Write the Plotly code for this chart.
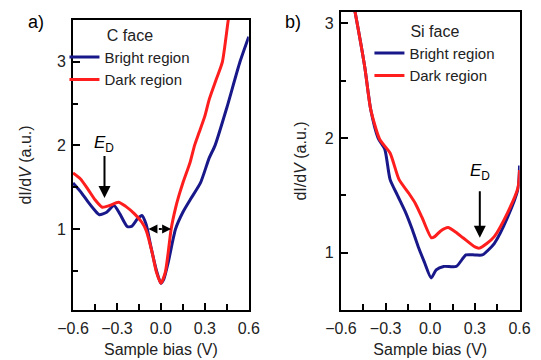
import plotly.graph_objects as go

# ---------------- data ----------------
# Panel a (C face)
a_bright_x = [-0.60, -0.55, -0.50, -0.45, -0.42, -0.37, -0.32, -0.28, -0.23, -0.20, -0.16, -0.13,
              -0.10, -0.07, -0.03, 0.00, 0.02, 0.05, 0.08, 0.10, 0.15, 0.20, 0.27, 0.33, 0.37,
              0.45, 0.54, 0.60]
a_bright_y = [1.55, 1.45, 1.33, 1.22, 1.17, 1.20, 1.28, 1.18, 1.03, 1.03, 1.12, 1.16,
              1.05, 0.80, 0.50, 0.35, 0.40, 0.60, 0.85, 1.00, 1.20, 1.35, 1.55, 1.85, 2.00,
              2.45, 3.00, 3.30]
a_dark_x = [-0.60, -0.55, -0.50, -0.45, -0.40, -0.35, -0.29, -0.24, -0.18, -0.13, -0.10, -0.06,
            -0.03, 0.00, 0.03, 0.05, 0.07, 0.10, 0.12, 0.15, 0.20, 0.23, 0.26, 0.30, 0.33,
            0.38, 0.42, 0.46, 0.48]
a_dark_y = [1.67, 1.60, 1.48, 1.35, 1.26, 1.28, 1.32, 1.27, 1.18, 1.08, 0.98, 0.72,
            0.48, 0.35, 0.48, 0.72, 1.00, 1.25, 1.38, 1.55, 1.80, 2.00, 2.15, 2.35, 2.55,
            2.80, 3.00, 3.50, 3.70]

# Panel b (Si face)
b_bright_x = [-0.52, -0.505, -0.44, -0.40, -0.35, -0.305, -0.27, -0.22, -0.165, -0.12, -0.08,
              -0.04, 0.006, 0.04, 0.09, 0.175, 0.24, 0.30, 0.35, 0.43, 0.52, 0.59, 0.60]
b_bright_y = [3.20, 3.10, 2.62, 2.25, 2.00, 1.90, 1.64, 1.50, 1.35, 1.20, 1.05,
              0.92, 0.78, 0.85, 0.88, 0.88, 0.98, 0.98, 0.98, 1.08, 1.31, 1.56, 1.76]
b_dark_x = [-0.52, -0.505, -0.44, -0.40, -0.34, -0.27, -0.21, -0.145, -0.10, -0.056, 0.008,
            0.03, 0.07, 0.12, 0.17, 0.22, 0.30, 0.33, 0.38, 0.43, 0.52, 0.59, 0.60]
b_dark_y = [3.20, 3.10, 2.62, 2.25, 1.99, 1.87, 1.64, 1.52, 1.43, 1.31, 1.13,
            1.14, 1.19, 1.22, 1.18, 1.13, 1.05, 1.04, 1.08, 1.14, 1.35, 1.57, 1.72]

x_tickvals = [-0.6, -0.3, 0.0, 0.3, 0.6]
x_ticktext = ["\u22120.6", "\u22120.3", "0.0", "0.3", "0.6"]
y_tickvals = [1, 2, 3]
y_ticktext = ["1", "2", "3"]

BLUE = "#18188a"
RED = "#ff1e1e"
FONT = "Liberation Sans, Arial, sans-serif"
TXT = "#222"

fig = go.Figure()
fig.add_trace(go.Scatter(x=a_bright_x, y=a_bright_y, mode="lines", name="Bright region",
                         line=dict(color=BLUE, width=3, shape="spline", smoothing=0.6),
                         xaxis="x", yaxis="y", legend="legend"))
fig.add_trace(go.Scatter(x=a_dark_x, y=a_dark_y, mode="lines", name="Dark region",
                         line=dict(color=RED, width=3, shape="spline", smoothing=0.6),
                         xaxis="x", yaxis="y", legend="legend"))
fig.add_trace(go.Scatter(x=b_bright_x, y=b_bright_y, mode="lines", name="Bright region",
                         line=dict(color=BLUE, width=3, shape="spline", smoothing=0.6),
                         xaxis="x2", yaxis="y2", legend="legend2"))
fig.add_trace(go.Scatter(x=b_dark_x, y=b_dark_y, mode="lines", name="Dark region",
                         line=dict(color=RED, width=3, shape="spline", smoothing=0.6),
                         xaxis="x2", yaxis="y2", legend="legend2"))

W, H = 541, 360
axis_common = dict(showline=True, linecolor="black", linewidth=2, mirror=True,
                   ticks="inside", tickcolor="black", tickwidth=2, ticklen=7,
                   showgrid=False, zeroline=False,
                   tickfont=dict(family=FONT, size=16, color=TXT))

xa = dict(axis_common, range=[-0.6, 0.6], tickvals=x_tickvals, ticktext=x_ticktext,
          minor=dict(tickvals=[-0.45, -0.15, 0.15, 0.45], ticks="inside", ticklen=6,
                     tickwidth=2, tickcolor="black"),
          ticklabelstandoff=3,
          title=dict(text="Sample bias (V)", font=dict(family=FONT, size=16, color=TXT),
                     standoff=8))
ytitle = dict(text="dI/d<i>V</i> (a.u.)", font=dict(family=FONT, size=16, color=TXT),
              standoff=21)
fig.update_layout(
    width=W, height=H,
    margin=dict(l=0, r=0, t=0, b=0),
    paper_bgcolor="white", plot_bgcolor="white",
    font=dict(family=FONT, size=14, color=TXT),
    xaxis=dict(xa, domain=[60 / W, 245 / W], anchor="y"),
    xaxis2=dict(xa, domain=[342 / W, 530 / W], anchor="y2"),
    yaxis=dict(axis_common, range=[0.03, 3.5], tickvals=y_tickvals, ticktext=y_ticktext,
               domain=[1 - 310 / H, 1 - 20 / H], anchor="x",
               minor=dict(dtick=0.5, tick0=0, ticks="inside", ticklen=5, tickwidth=2,
                          tickcolor="black"),
               ticklabelstandoff=2, title=ytitle),
    yaxis2=dict(axis_common, range=[0.5, 3.1], tickvals=y_tickvals, ticktext=y_ticktext,
                domain=[1 - 310 / H, 1 - 12 / H], anchor="x2",
                minor=dict(dtick=0.5, tick0=0, ticks="inside", ticklen=5, tickwidth=2,
                           tickcolor="black"),
                ticklabelstandoff=2, title=dict(ytitle, standoff=14)),
    legend=dict(x=51 / W, y=1 - 20 / H, xanchor="left", yanchor="top",
                bgcolor="rgba(0,0,0,0)", font=dict(family=FONT, size=15, color=TXT),
                title=dict(text="C face", side="top center",
                           font=dict(family=FONT, size=16, color=TXT)),
                itemwidth=30, tracegroupgap=0),
    legend2=dict(x=372 / W, y=1 - 16 / H, xanchor="left", yanchor="top",
                 bgcolor="rgba(0,0,0,0)", font=dict(family=FONT, size=15, color=TXT),
                 title=dict(text="Si face", side="top center",
                            font=dict(family=FONT, size=16, color=TXT)),
                 itemwidth=30, tracegroupgap=0),
)

annotations = [
    dict(text="a)", xref="paper", yref="paper", x=10 / W, y=1 - 22 / H, showarrow=False,
         xanchor="left", yanchor="middle", font=dict(family=FONT, size=18, color="black")),
    dict(text="b)", xref="paper", yref="paper", x=281 / W, y=1 - 22 / H, showarrow=False,
         xanchor="left", yanchor="middle", font=dict(family=FONT, size=18, color="black")),
    # E_D labels
    dict(text="<i>E</i><sub>D</sub>", xref="x", yref="y", x=-0.385, y=2.02, showarrow=False,
         font=dict(family=FONT, size=17, color="black")),
    dict(text="<i>E</i><sub>D</sub>", xref="x2", yref="y2", x=0.333, y=1.70, showarrow=False,
         font=dict(family=FONT, size=17, color="black")),
    # E_D arrows
    dict(text="", xref="x", yref="y", x=-0.385, y=1.37, axref="x", ayref="y",
         ax=-0.385, ay=1.89, showarrow=True, arrowhead=2, arrowsize=1.2, arrowwidth=2,
         arrowcolor="black"),
    dict(text="", xref="x2", yref="y2", x=0.333, y=1.13, axref="x2", ayref="y2",
         ax=0.333, ay=1.55, showarrow=True, arrowhead=2, arrowsize=1.2, arrowwidth=2,
         arrowcolor="black"),
    # double arrow heads
    dict(text="", xref="x", yref="y", x=-0.085, y=1.0, axref="x", ayref="y",
         ax=-0.055, ay=1.0, showarrow=True, arrowhead=2, arrowsize=1.2, arrowwidth=1.5,
         arrowcolor="black"),
    dict(text="", xref="x", yref="y", x=0.07, y=1.0, axref="x", ayref="y",
         ax=0.04, ay=1.0, showarrow=True, arrowhead=2, arrowsize=1.2, arrowwidth=1.5,
         arrowcolor="black"),
]
fig.update_layout(annotations=annotations)
fig.add_shape(type="line", xref="x", yref="y", x0=-0.055, x1=0.04, y0=1.0, y1=1.0,
              line=dict(color="black", width=2, dash="dot"))

fig.write_html("out.html", config={"displayModeBar": False},
               post_script="document.body.style.margin='0';document.body.style.overflow='hidden';")
